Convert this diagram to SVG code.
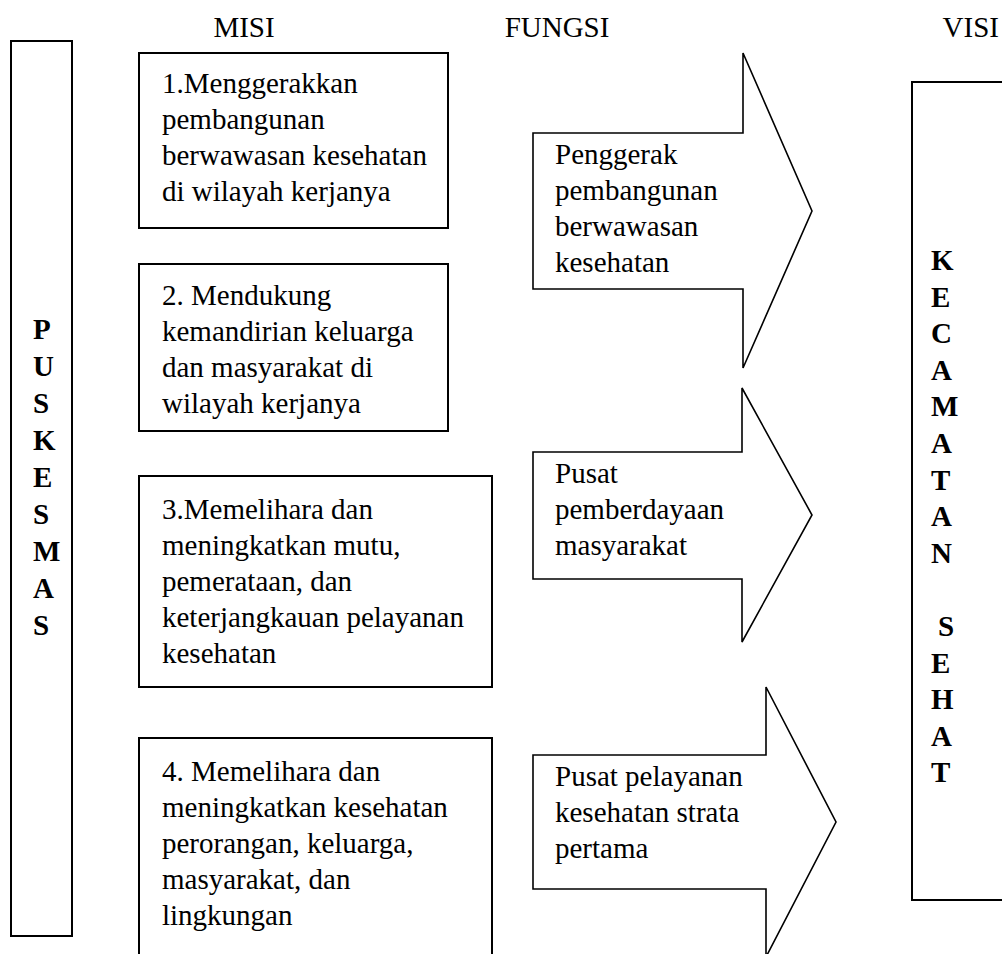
<svg xmlns="http://www.w3.org/2000/svg" width="1002" height="954" viewBox="0 0 1002 954">
<style>
.b{fill:#fff;stroke:#000;stroke-width:2}
.a{fill:#fff;stroke:#000;stroke-width:1.6;stroke-linejoin:miter}
text{font-family:"Liberation Serif","Times New Roman",serif;font-size:29px;fill:#000}
.v{font-weight:bold}
</style>
<rect width="1002" height="954" fill="#fff"/>
<g id="headers">
<text x="244" y="37" text-anchor="middle">MISI</text>
<text x="557" y="37" text-anchor="middle">FUNGSI</text>
<text x="999" y="37" text-anchor="end">VISI</text>
</g>
<g id="puskesmas">
<rect class="b" x="11" y="41" width="61" height="895"/>
<text class="v" x="33"><tspan x="33" y="339">P</tspan><tspan x="33" y="376">U</tspan><tspan x="33" y="413">S</tspan><tspan x="33" y="450">K</tspan><tspan x="33" y="487">E</tspan><tspan x="33" y="524">S</tspan><tspan x="33" y="561">M</tspan><tspan x="33" y="598">A</tspan><tspan x="33" y="635">S</tspan></text>
</g>
<g id="misi1">
<rect class="b" x="139" y="53" width="309" height="175"/>
<text><tspan x="162" y="93">1.Menggerakkan</tspan><tspan x="162" y="129">pembangunan</tspan><tspan x="162" y="165">berwawasan kesehatan</tspan><tspan x="162" y="201">di wilayah kerjanya</tspan></text>
</g>
<g id="misi2">
<rect class="b" x="139" y="264" width="309" height="167"/>
<text><tspan x="162" y="305">2. Mendukung</tspan><tspan x="162" y="341">kemandirian keluarga</tspan><tspan x="162" y="377">dan masyarakat di</tspan><tspan x="162" y="413">wilayah kerjanya</tspan></text>
</g>
<g id="misi3">
<rect class="b" x="139" y="476" width="353" height="211"/>
<text><tspan x="162" y="519">3.Memelihara dan</tspan><tspan x="162" y="555">meningkatkan mutu,</tspan><tspan x="162" y="591">pemerataan, dan</tspan><tspan x="162" y="627">keterjangkauan pelayanan</tspan><tspan x="162" y="663">kesehatan</tspan></text>
</g>
<g id="misi4">
<rect class="b" x="139" y="738" width="353" height="230"/>
<text><tspan x="162" y="781">4. Memelihara dan</tspan><tspan x="162" y="817">meningkatkan kesehatan</tspan><tspan x="162" y="853">perorangan, keluarga,</tspan><tspan x="162" y="889">masyarakat, dan</tspan><tspan x="162" y="925">lingkungan</tspan></text>
</g>
<g id="fungsi1">
<path class="a" d="M533,133 H743 V53 L812,211 L743,368 V289 H533 Z"/>
<text><tspan x="555" y="164">Penggerak</tspan><tspan x="555" y="200">pembangunan</tspan><tspan x="555" y="236">berwawasan</tspan><tspan x="555" y="272">kesehatan</tspan></text>
</g>
<g id="fungsi2">
<path class="a" d="M533,452 H742 V388 L812,515 L742,642 V579 H533 Z"/>
<text><tspan x="555" y="483">Pusat</tspan><tspan x="555" y="519">pemberdayaan</tspan><tspan x="555" y="555">masyarakat</tspan></text>
</g>
<g id="fungsi3">
<path class="a" d="M533,755 H766 V687 L836,822 L766,957 V889 H533 Z"/>
<text><tspan x="555" y="786">Pusat pelayanan</tspan><tspan x="555" y="822">kesehatan strata</tspan><tspan x="555" y="858">pertama</tspan></text>
</g>
<g id="visi">
<rect class="b" x="912" y="82" width="100" height="818"/>
<text class="v"><tspan x="931" y="270">K</tspan><tspan x="931" y="306.6">E</tspan><tspan x="931" y="343.2">C</tspan><tspan x="931" y="379.8">A</tspan><tspan x="931" y="416.4">M</tspan><tspan x="931" y="453">A</tspan><tspan x="931" y="489.6">T</tspan><tspan x="931" y="526.2">A</tspan><tspan x="931" y="562.8">N</tspan><tspan x="938" y="636">S</tspan><tspan x="931" y="672.6">E</tspan><tspan x="931" y="709.2">H</tspan><tspan x="931" y="745.8">A</tspan><tspan x="931" y="782.4">T</tspan></text>
</g>
<g id="connectors"/>
</svg>
